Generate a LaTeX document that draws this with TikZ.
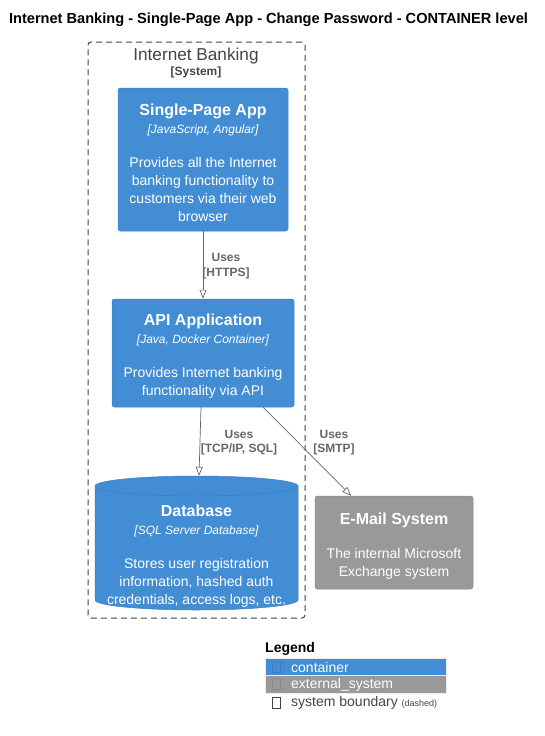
\documentclass[tikz,border=0pt]{standalone}
\usepackage{fontspec}
\setmainfont{Liberation Sans}
\usetikzlibrary{arrows.meta,calc}
\definecolor{cblue}{HTML}{438DD5}
\definecolor{cblueline}{HTML}{3C7FC0}
\definecolor{cgray}{HTML}{999999}
\definecolor{cgrayline}{HTML}{8A8A8A}
\definecolor{lbl}{HTML}{666666}
\definecolor{bnd}{HTML}{444444}
\tikzset{
  box/.style={rounded corners=2.5pt, inner sep=0pt, align=center, text=white,
    font=\fontsize{14}{18}\selectfont},
  container/.style={box, fill=cblue, draw=cblueline, line width=0.5pt},
  extsys/.style={box, fill=cgray, draw=cgrayline, line width=0.5pt},
  rel/.style={draw=lbl, line width=0.7pt, -{Triangle[open,length=9pt,width=7pt]}},
  rellabel/.style={text=lbl, font=\bfseries\fontsize{12}{14.5}\selectfont, align=center, inner sep=0pt},
  legrow/.style={minimum width=181pt, minimum height=17.5pt, anchor=north west, inner sep=0pt, draw=white!85!gray, line width=0.4pt},
  legtext/.style={anchor=west, inner sep=0pt, font=\fontsize{14}{16}\selectfont},
  tofu/.style={minimum width=8pt, minimum height=11pt, inner sep=0pt, line width=0.6pt},
}
\newcommand{\ttl}[1]{{\fontsize{16}{18}\selectfont\bfseries #1}}
\newcommand{\tch}[1]{{\fontsize{12}{18}\selectfont\itshape [#1]}}
\begin{document}
\begin{tikzpicture}[x=1pt,y=-1pt]
\useasboundingbox (0,0) rectangle (544,736);

\node[font=\bfseries\fontsize{14.6}{16}\selectfont, inner sep=0pt] (title) at (268.5,19.5)
  {Internet Banking - Single-Page App - Change Password - CONTAINER level};

% system boundary
\node[draw=bnd, line width=1pt, dash pattern=on 6pt off 4pt, rounded corners=3pt,
  minimum width=217pt, minimum height=576pt, inner sep=0pt] (bound) at (196.5,330) {};
\node[text=bnd, font=\fontsize{17.2}{19}\selectfont, inner sep=0pt] (bname) at (196,56) {Internet Banking};
\node[text=bnd, font=\bfseries\fontsize{12}{14}\selectfont, inner sep=0pt] (btype) at (196,72.5) {[System]};

% Single-Page App
\node[container, minimum width=170pt, minimum height=143pt] (spa) at (203,159.5) {};
\node[box] (spatext) at (203,162.5)
  {\ttl{Single-Page App}\\\tch{JavaScript, Angular}\\[16pt]
   Provides all the Internet\\banking functionality to\\customers via their web\\browser};

% API Application
\node[container, minimum width=182pt, minimum height=108pt] (api) at (203,353) {};
\node[box] (apitext) at (203,356)
  {\ttl{API Application}\\\tch{Java, Docker Container}\\[16pt]
   Provides Internet banking\\functionality via API};

% Database (cylinder)
\path[fill=cblue, draw=cblueline, line width=0.5pt]
  (95,486) -- (95,600) arc[start angle=180, end angle=360, x radius=101.5pt, y radius=10pt]
  -- (298,486) arc[start angle=0, end angle=180, x radius=101.5pt, y radius=10pt] -- cycle;
\draw[cblueline, line width=0.5pt] (95,486) arc[start angle=180, end angle=360, x radius=101.5pt, y radius=10pt];
\node[minimum width=203pt, minimum height=134pt, inner sep=0pt] (db) at (196.5,543) {};
\node[box] (dbtext) at (196.5,556.5)
  {\ttl{Database}\\\tch{SQL Server Database}\\[16pt]
   Stores user registration\\information, hashed auth\\credentials, access logs, etc.};

% E-Mail System
\node[extsys, minimum width=158pt, minimum height=93pt] (email) at (394,542.5) {};
\node[box] (emailtext) at (394,546.5)
  {\ttl{E-Mail System}\\[16pt]The internal Microsoft\\Exchange system};

% relations
\draw[rel] (spa) -- (api);
\node[rellabel] (l1) at (226,266) {Uses\\{[HTTPS]}};

\draw[rel] ($(api.south)+(-2,0)$) -- ($(db.north)+(2.5,0)$);
\node[rellabel] (l2) at (239,442.5) {Uses\\{[TCP/IP, SQL]}};

\draw[rel] ($(api.south)!0.66!(api.south east)$) -- ($(email.north west)!0.46!(email.north)$);
\node[rellabel] (l3) at (334,442.5) {Uses\\{[SMTP]}};

% legend
\node[font=\bfseries\fontsize{14}{16}\selectfont, anchor=west, inner sep=0pt] (legend) at (265,649) {Legend};
\node[legrow, fill=cblue] (lrow1) at (265,657.5) {};
\node[legrow, fill=cgray] (lrow2) at (265,675) {};
\node[tofu, draw=cblueline] (t1) at (276.5,666.5) {};
\node[tofu, draw=cgrayline] (t2) at (276.5,684) {};
\node[tofu, draw=bnd] (t3) at (276.5,702.5) {};
\node[legtext, text=white] (lt1) at (291,667) {container};
\node[legtext, text=white] (lt2) at (291,684.5) {external\_system};
\node[legtext, text=bnd] (lt3) at (291,703) {system boundary {\fontsize{9}{10}\selectfont (dashed)}};
\end{tikzpicture}
\end{document}
